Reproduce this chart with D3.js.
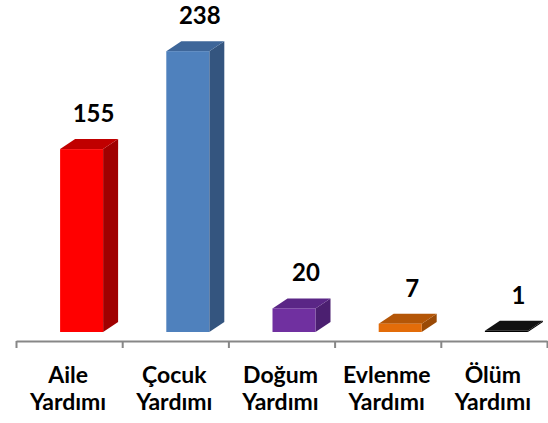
<!DOCTYPE html>
<html>
<head>
<meta charset="utf-8">
<script src="https://cdn.jsdelivr.net/npm/d3@7"></script>
<style>
  html, body { margin: 0; padding: 0; background: #fff; }
  svg { display: block; }
  text { font-family: Lato, "Open Sans", sans-serif; font-weight: bold; fill: #000; }
</style>
</head>
<body>
<svg id="chart" width="548" height="423"></svg>
<script>
// Yardım türlerine göre başvuru sayıları
const categories = ["Aile Yardımı", "Çocuk Yardımı", "Doğum Yardımı", "Evlenme Yardımı", "Ölüm Yardımı"];
const values = [155, 238, 20, 7, 1];
const frontColors = ["#FF0000", "#4F81BD", "#7030A0", "#E36C09", "#000000"];
const topColors = ["#C00000", "#3E6699", "#5A2686", "#B45607", "#111111"];
const sideColors = ["#A00000", "#34557F", "#4B1F70", "#9A4A06", "#000000"];

const W = 548, H = 423;
const svg = d3.select("#chart");

const plotLeft = 16, plotRight = 547, floorY = 332;
const depthX = 15, depthY = 10;

const x = d3.scaleBand().domain(categories).range([plotLeft, plotRight]).paddingInner(0).paddingOuter(0);
const y = d3.scaleLinear().domain([0, 250]).range([floorY, floorY - 295]);
const barW = 43;
const barLeft = c => x(c) + x.bandwidth() / 2 - 9;

const bars = svg.append("g").selectAll("g")
  .data(categories.map((c, i) => ({ c, v: values[i], i })))
  .join("g");

// side face
bars.append("path")
  .attr("fill", d => sideColors[d.i])
  .attr("d", d => {
    const x1 = barLeft(d.c) + barW, t = y(d.v), b = y(0);
    return `M${x1},${t}L${x1 + depthX},${t - depthY}L${x1 + depthX},${b - depthY}L${x1},${b}Z`;
  });

// top face
bars.append("path")
  .attr("fill", d => topColors[d.i])
  .attr("d", d => {
    const x0 = barLeft(d.c), x1 = x0 + barW, t = y(d.v);
    return `M${x0},${t}L${x0 + depthX},${t - depthY}L${x1 + depthX},${t - depthY}L${x1},${t}Z`;
  });

// front face
bars.append("rect")
  .attr("fill", d => frontColors[d.i])
  .attr("x", d => barLeft(d.c))
  .attr("y", d => y(d.v))
  .attr("width", barW)
  .attr("height", d => y(0) - y(d.v));

// value labels
bars.append("text")
  .attr("x", d => barLeft(d.c) + barW / 2 + 12)
  .attr("y", d => y(d.v) - 27)
  .attr("text-anchor", "middle")
  .attr("font-size", 24)
  .text(d => d.v);

// category axis with ticks at category boundaries
const edges = d3.scaleLinear().domain([0, categories.length]).range([plotLeft, plotRight]);
const axisG = svg.append("g")
  .attr("transform", `translate(0,341)`)
  .call(d3.axisBottom(edges).tickValues(d3.range(categories.length + 1)).tickSize(7).tickSizeOuter(0).tickFormat(""));
axisG.selectAll("path, line").attr("stroke", "#878787").attr("stroke-width", 2);

// two-line category labels
const labels = svg.append("g").selectAll("text")
  .data(categories)
  .join("text")
  .attr("text-anchor", "middle")
  .attr("font-size", 23)
  .attr("x", c => x(c) + x.bandwidth() / 2 - 1);
labels.selectAll("tspan")
  .data(c => c.split(" ").map(s => ({ s, c })))
  .join("tspan")
  .attr("x", d => x(d.c) + x.bandwidth() / 2 - 1)
  .attr("y", (d, i) => 383 + i * 27)
  .text(d => d.s);
</script>
</body>
</html>
